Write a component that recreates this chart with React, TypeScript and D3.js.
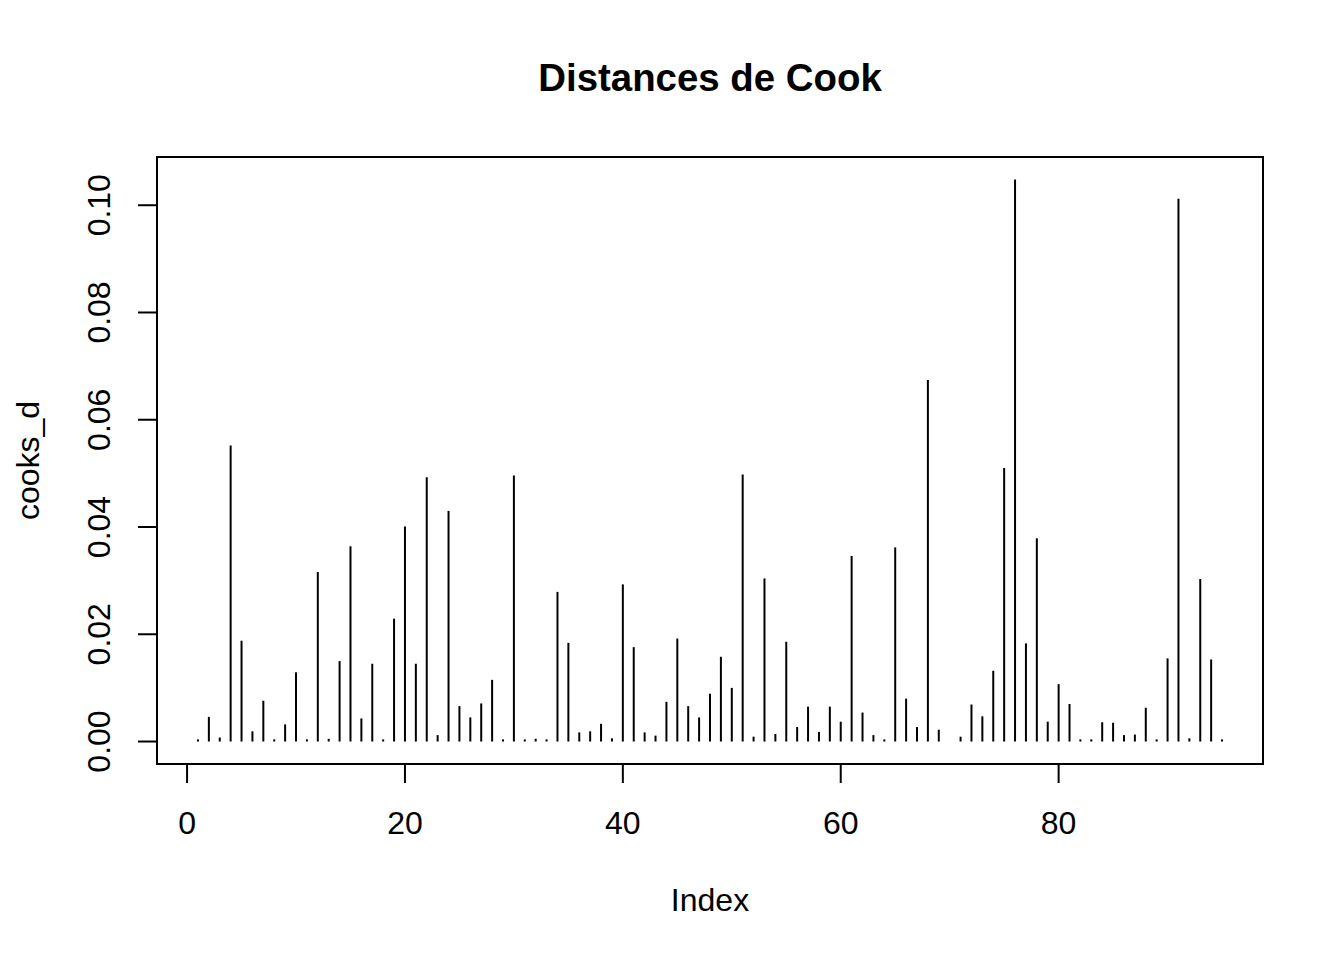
import React from "react"
import * as d3 from "d3"

const cooksD = [
  0.0004, 0.0046, 0.00075, 0.0552, 0.0188, 0.0019, 0.0076, 0.0004, 0.0032, 0.0129,
  0.0004, 0.0316, 0.0005, 0.015, 0.0364, 0.0043, 0.0145, 0.0004, 0.0229, 0.0401,
  0.0145, 0.0493, 0.0012, 0.043, 0.0066, 0.0045, 0.0071, 0.0115, 0.0004, 0.0496,
  0.0004, 0.0005, 0.0004, 0.0279, 0.0184, 0.0017, 0.0019, 0.0033, 0.0006, 0.0293,
  0.0176, 0.0017, 0.0011, 0.0074, 0.0192, 0.0066, 0.0045, 0.0089, 0.0158, 0.01,
  0.0498, 0.0009, 0.0304, 0.0014, 0.0186, 0.0027, 0.0065, 0.0018, 0.0065, 0.0037,
  0.0346, 0.0054, 0.0012, 0.0004, 0.0362, 0.008, 0.0027, 0.0674, 0.0022, 0,
  0.0009, 0.0069, 0.0047, 0.0132, 0.051, 0.1048, 0.0183, 0.0379, 0.0037, 0.0107,
  0.007, 0.0004, 0.0004, 0.0036, 0.0035, 0.0012, 0.0013, 0.0063, 0.0004, 0.0155,
  0.1012, 0.0006, 0.0303, 0.0153, 0.0004,
]

const xTicks = [0, 20, 40, 60, 80]
const yTicks = [0, 0.02, 0.04, 0.06, 0.08, 0.1]

const title = "Distances de Cook"
const xLabel = "Index"
const yLabel = "cooks_d"

const width = 1344
const height = 960
const margin = { left: 157, right: 1263, top: 157, bottom: 764 }
const font = "'Liberation Sans', Arial, Helvetica, sans-serif"

export default function App() {
  const n = cooksD.length
  const maxD = d3.max(cooksD) ?? 0

  // R-style 4% padding on both axes
  const xPad = (n - 1) * 0.04
  const x = d3
    .scaleLinear()
    .domain([1 - xPad, n + xPad])
    .range([margin.left, margin.right])
  const y = d3
    .scaleLinear()
    .domain([-maxD * 0.04, maxD * 1.04])
    .range([margin.bottom, margin.top])

  const tickLen = 19

  return (
    <div style={{ position: "absolute", left: 0, top: 0 }}>
      <svg width={width} height={height} style={{ display: "block", background: "white" }}>
        <text
          x={(margin.left + margin.right) / 2}
          y={91}
          textAnchor="middle"
          fontFamily={font}
          fontWeight="bold"
          fontSize={38.4}
        >
          {title}
        </text>

        {/* spikes */}
        <g stroke="black" strokeWidth={2} strokeLinecap="butt">
          {cooksD.map((d, i) => (
            <line key={i} x1={x(i + 1)} x2={x(i + 1)} y1={y(0)} y2={y(d)} />
          ))}
        </g>

        {/* box */}
        <rect
          x={margin.left}
          y={margin.top}
          width={margin.right - margin.left}
          height={margin.bottom - margin.top}
          fill="none"
          stroke="black"
          strokeWidth={2}
        />

        {/* x axis */}
        <g stroke="black" strokeWidth={2}>
          <line
            x1={x(xTicks[0])}
            x2={x(xTicks[xTicks.length - 1])}
            y1={margin.bottom}
            y2={margin.bottom}
          />
          {xTicks.map(t => (
            <line key={t} x1={x(t)} x2={x(t)} y1={margin.bottom} y2={margin.bottom + tickLen} />
          ))}
        </g>
        {xTicks.map(t => (
          <text key={t} x={x(t)} y={834} textAnchor="middle" fontFamily={font} fontSize={32}>
            {t}
          </text>
        ))}

        {/* y axis */}
        <g stroke="black" strokeWidth={2}>
          <line
            x1={margin.left}
            x2={margin.left}
            y1={y(yTicks[0])}
            y2={y(yTicks[yTicks.length - 1])}
          />
          {yTicks.map(t => (
            <line key={t} x1={margin.left} x2={margin.left - tickLen} y1={y(t)} y2={y(t)} />
          ))}
        </g>
        {yTicks.map(t => (
          <text
            key={t}
            transform={`translate(110,${y(t)}) rotate(-90)`}
            textAnchor="middle"
            fontFamily={font}
            fontSize={32}
          >
            {d3.format(".2f")(t)}
          </text>
        ))}

        <text x={(margin.left + margin.right) / 2} y={911} textAnchor="middle" fontFamily={font} fontSize={32}>
          {xLabel}
        </text>
        <text
          transform={`translate(39,${(margin.top + margin.bottom) / 2}) rotate(-90)`}
          textAnchor="middle"
          fontFamily={font}
          fontSize={32}
        >
          {yLabel}
        </text>
      </svg>
    </div>
  )
}
